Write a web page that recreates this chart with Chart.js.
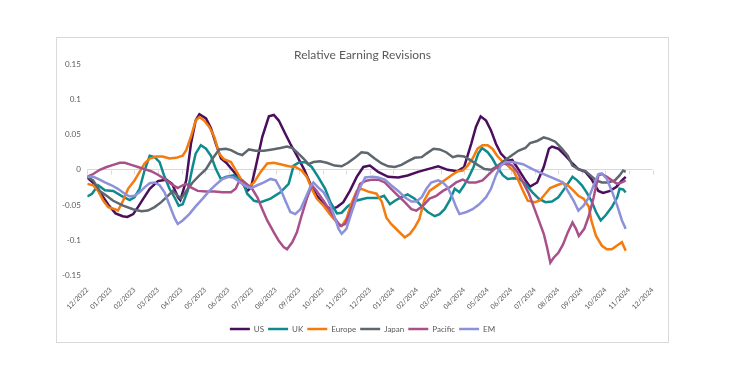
<!DOCTYPE html>
<html><head><meta charset="utf-8">
<script src="https://cdn.jsdelivr.net/npm/chart.js@4.4.1/dist/chart.umd.min.js"></script>
<style>html,body{margin:0;padding:0;background:#fff;width:739px;height:380px;overflow:hidden;} #c{position:absolute;left:56px;top:0;display:block;}</style>
</head><body>
<canvas id="c" width="613" height="380"></canvas>
<script>
// x values are months since 12/2022
const tickLabels = ['12/2022','01/2023','02/2023','03/2023','04/2023','05/2023','06/2023','07/2023','08/2023','09/2023','10/2023','11/2023','12/2023','01/2024','02/2024','03/2024','04/2024','05/2024','06/2024','07/2024','08/2024','09/2024','10/2024','11/2024','12/2024'];
const seriesNames = ['US','UK','Europe','Japan','Pacific','EM'];
const seriesColors = ['#4B0E5D','#0F8B8D','#F47B0E','#5D6770','#A9508A','#8D91DA'];

const us = [[0,-0.011],[0.3,-0.02],[0.6,-0.035],[0.9,-0.05],[1.2,-0.062],[1.5,-0.066],[1.7,-0.067],[1.95,-0.063],[2.15,-0.053],[2.4,-0.04],[2.65,-0.027],[3.0,-0.016],[3.35,-0.014],[3.6,-0.02],[3.85,-0.039],[3.95,-0.043],[4.2,-0.015],[4.4,0.037],[4.6,0.07],[4.76,0.079],[5.04,0.073],[5.25,0.059],[5.46,0.037],[5.68,0.016],[5.9,0.01],[6.23,-0.003],[6.5,-0.015],[6.8,-0.03],[6.95,-0.025],[7.15,0.004],[7.43,0.047],[7.71,0.076],[7.92,0.078],[8.13,0.07],[8.41,0.051],[8.62,0.037],[8.9,0.02],[9.2,0.001],[9.47,-0.02],[9.75,-0.037],[10.04,-0.049],[10.32,-0.056],[10.6,-0.053],[10.87,-0.046],[11.15,-0.03],[11.44,-0.01],[11.72,0.004],[12.0,0.006],[12.35,-0.003],[12.77,-0.01],[13.2,-0.011],[13.6,-0.008],[14.04,-0.003],[14.46,0.001],[14.9,0.005],[15.3,0],[15.7,-0.002],[16.0,0.004],[16.3,0.037],[16.5,0.061],[16.7,0.076],[16.93,0.07],[17.14,0.056],[17.35,0.037],[17.56,0.023],[17.85,0.013],[18.04,0.014],[18.3,0.001],[18.6,-0.015],[18.8,-0.024],[19.1,-0.018],[19.38,0.004],[19.6,0.03],[19.73,0.033],[20.0,0.03],[20.3,0.02],[20.6,0.009],[20.85,0.001],[21.15,-0.003],[21.4,-0.013],[21.7,-0.03],[21.9,-0.033],[22.2,-0.03],[22.47,-0.024],[22.7,-0.015],[22.86,-0.01]];
const uk = [[0,-0.038],[0.2,-0.034],[0.46,-0.022],[0.75,-0.029],[1.1,-0.03],[1.45,-0.037],[1.8,-0.043],[2.0,-0.039],[2.22,-0.027],[2.43,-0.001],[2.65,0.02],[2.86,0.018],[3.07,0.011],[3.28,-0.01],[3.49,-0.027],[3.7,-0.039],[3.88,-0.051],[4.05,-0.049],[4.26,-0.03],[4.47,0.004],[4.6,0.023],[4.82,0.035],[5.04,0.03],[5.25,0.02],[5.46,0.001],[5.67,-0.013],[5.88,-0.01],[6.2,-0.008],[6.58,-0.015],[6.79,-0.034],[7.08,-0.044],[7.36,-0.046],[7.78,-0.041],[8.2,-0.032],[8.55,-0.02],[8.76,0.006],[8.97,0.01],[9.25,0.011],[9.53,0.004],[9.8,-0.01],[10.1,-0.027],[10.32,-0.046],[10.6,-0.062],[10.8,-0.061],[11.05,-0.052],[11.4,-0.044],[11.87,-0.04],[12.35,-0.04],[12.6,-0.037],[12.85,-0.049],[13.06,-0.044],[13.34,-0.039],[13.6,-0.035],[13.9,-0.041],[14.2,-0.052],[14.46,-0.06],[14.75,-0.066],[14.96,-0.063],[15.17,-0.056],[15.38,-0.044],[15.6,-0.027],[15.8,-0.032],[16.0,-0.022],[16.2,-0.01],[16.4,0.004],[16.6,0.023],[16.76,0.031],[17.0,0.025],[17.2,0.016],[17.4,0.004],[17.65,-0.008],[17.85,-0.013],[18.1,-0.012],[18.35,-0.013],[18.6,-0.02],[18.9,-0.032],[19.17,-0.041],[19.45,-0.046],[19.73,-0.045],[20.0,-0.039],[20.3,-0.025],[20.6,-0.01],[20.8,-0.015],[21.0,-0.022],[21.2,-0.032],[21.4,-0.044],[21.6,-0.06],[21.8,-0.072],[22.0,-0.065],[22.27,-0.053],[22.5,-0.039],[22.6,-0.027],[22.75,-0.028],[22.86,-0.032]];
const europe = [[0,-0.02],[0.25,-0.022],[0.46,-0.03],[0.68,-0.044],[0.89,-0.053],[1.17,-0.056],[1.3,-0.058],[1.52,-0.044],[1.73,-0.027],[2.01,-0.015],[2.22,-0.003],[2.43,0.009],[2.65,0.016],[2.93,0.019],[3.2,0.019],[3.49,0.016],[3.77,0.017],[4.05,0.02],[4.2,0.028],[4.4,0.047],[4.6,0.07],[4.76,0.075],[4.96,0.07],[5.18,0.061],[5.39,0.047],[5.6,0.023],[5.8,0.015],[6.1,0.011],[6.4,-0.006],[6.65,-0.02],[6.87,-0.024],[7.08,-0.018],[7.36,-0.003],[7.64,0.009],[7.92,0.01],[8.2,0.008],[8.55,0.005],[8.83,0.004],[9.1,-0.001],[9.32,-0.01],[9.53,-0.027],[9.74,-0.041],[10.03,-0.051],[10.3,-0.063],[10.6,-0.075],[10.8,-0.08],[11.0,-0.07],[11.2,-0.049],[11.44,-0.03],[11.64,-0.027],[11.93,-0.031],[12.28,-0.034],[12.5,-0.045],[12.7,-0.068],[12.9,-0.077],[13.2,-0.087],[13.48,-0.096],[13.7,-0.091],[13.9,-0.082],[14.1,-0.07],[14.3,-0.044],[14.53,-0.03],[14.75,-0.025],[14.96,-0.02],[15.17,-0.015],[15.45,-0.008],[15.73,-0.002],[15.94,-0.001],[16.15,0.006],[16.36,0.016],[16.57,0.03],[16.78,0.035],[17.0,0.035],[17.2,0.03],[17.4,0.02],[17.65,0.011],[17.85,0.006],[18.1,-0.002],[18.3,-0.015],[18.5,-0.03],[18.7,-0.044],[19.0,-0.046],[19.2,-0.044],[19.45,-0.034],[19.65,-0.026],[19.94,-0.022],[20.2,-0.019],[20.4,-0.022],[20.65,-0.03],[20.85,-0.037],[21.07,-0.041],[21.3,-0.053],[21.4,-0.072],[21.6,-0.094],[21.85,-0.108],[22.06,-0.113],[22.27,-0.113],[22.48,-0.108],[22.7,-0.103],[22.86,-0.115]];
const japan = [[0,-0.01],[0.25,-0.015],[0.53,-0.03],[0.82,-0.037],[1.1,-0.044],[1.52,-0.051],[1.94,-0.056],[2.3,-0.059],[2.57,-0.058],[2.86,-0.053],[3.14,-0.046],[3.42,-0.037],[3.63,-0.03],[3.84,-0.037],[3.98,-0.041],[4.2,-0.03],[4.47,-0.018],[4.76,-0.008],[5.04,0.001],[5.32,0.016],[5.6,0.029],[5.88,0.03],[6.1,0.028],[6.38,0.023],[6.58,0.021],[6.86,0.029],[7.15,0.027],[7.5,0.027],[7.85,0.029],[8.2,0.031],[8.48,0.033],[8.7,0.031],[8.9,0.025],[9.18,0.016],[9.39,0.008],[9.6,0.011],[9.88,0.012],[10.17,0.01],[10.5,0.006],[10.8,0.005],[11.07,0.01],[11.36,0.017],[11.64,0.025],[11.9,0.024],[12.2,0.016],[12.5,0.009],[12.78,0.005],[13.06,0.004],[13.34,0.007],[13.6,0.012],[13.9,0.017],[14.2,0.018],[14.4,0.023],[14.7,0.03],[14.96,0.029],[15.24,0.025],[15.52,0.018],[15.73,0.02],[16.0,0.019],[16.3,0.013],[16.57,0.007],[16.86,0.001],[17.14,0],[17.4,0.005],[17.7,0.013],[18.0,0.02],[18.3,0.027],[18.6,0.031],[18.8,0.038],[19.1,0.041],[19.38,0.046],[19.6,0.044],[19.87,0.04],[20.15,0.03],[20.4,0.02],[20.6,0.006],[20.85,0.001],[21.15,-0.002],[21.4,-0.009],[21.6,-0.015],[21.85,-0.018],[22.1,-0.018],[22.4,-0.015],[22.6,-0.008],[22.75,-0.001],[22.86,-0.003]];
const pacific = [[0,-0.01],[0.25,-0.006],[0.53,0],[0.82,0.004],[1.1,0.007],[1.38,0.01],[1.59,0.01],[1.87,0.007],[2.15,0.004],[2.43,0.001],[2.71,-0.002],[3.0,-0.007],[3.28,-0.013],[3.56,-0.02],[3.84,-0.026],[4.05,-0.022],[4.2,-0.02],[4.4,-0.025],[4.69,-0.03],[5.04,-0.031],[5.39,-0.031],[5.74,-0.032],[6.1,-0.032],[6.3,-0.027],[6.45,-0.016],[6.58,-0.015],[6.79,-0.021],[7.0,-0.027],[7.22,-0.039],[7.43,-0.056],[7.64,-0.072],[7.92,-0.089],[8.13,-0.101],[8.34,-0.11],[8.48,-0.113],[8.7,-0.103],[8.9,-0.089],[9.1,-0.065],[9.32,-0.041],[9.53,-0.022],[9.74,-0.03],[10.03,-0.044],[10.3,-0.058],[10.53,-0.07],[10.74,-0.08],[10.95,-0.077],[11.16,-0.06],[11.37,-0.039],[11.58,-0.02],[11.8,-0.016],[12.1,-0.014],[12.35,-0.014],[12.63,-0.018],[12.9,-0.027],[13.2,-0.037],[13.48,-0.046],[13.76,-0.056],[13.97,-0.058],[14.26,-0.051],[14.53,-0.041],[14.82,-0.037],[15.1,-0.03],[15.38,-0.025],[15.66,-0.018],[15.94,-0.014],[16.2,-0.018],[16.5,-0.018],[16.78,-0.015],[17.0,-0.008],[17.28,0.001],[17.56,0.008],[17.85,0.009],[18.04,0.006],[18.25,-0.003],[18.5,-0.018],[18.75,-0.034],[18.96,-0.053],[19.17,-0.072],[19.38,-0.091],[19.52,-0.11],[19.66,-0.132],[19.8,-0.125],[20.0,-0.118],[20.2,-0.106],[20.4,-0.089],[20.6,-0.075],[20.75,-0.084],[20.87,-0.094],[21.1,-0.084],[21.3,-0.065],[21.5,-0.039],[21.7,-0.008],[21.85,-0.006],[22.06,-0.01],[22.27,-0.015],[22.5,-0.02],[22.7,-0.018],[22.86,-0.015]];
const em = [[0,-0.01],[0.25,-0.01],[0.46,-0.013],[0.75,-0.018],[1.03,-0.022],[1.3,-0.027],[1.59,-0.034],[1.8,-0.038],[2.0,-0.037],[2.22,-0.032],[2.43,-0.025],[2.65,-0.019],[2.86,-0.018],[3.07,-0.022],[3.28,-0.032],[3.42,-0.044],[3.56,-0.056],[3.7,-0.068],[3.84,-0.077],[4.05,-0.072],[4.33,-0.063],[4.6,-0.052],[4.9,-0.041],[5.18,-0.03],[5.46,-0.021],[5.74,-0.013],[6.0,-0.01],[6.2,-0.011],[6.38,-0.015],[6.65,-0.022],[6.94,-0.026],[7.22,-0.022],[7.5,-0.018],[7.78,-0.013],[8.0,-0.015],[8.2,-0.027],[8.41,-0.044],[8.62,-0.06],[8.83,-0.063],[9.05,-0.056],[9.25,-0.041],[9.46,-0.025],[9.6,-0.018],[9.8,-0.025],[10.03,-0.032],[10.24,-0.044],[10.46,-0.063],[10.67,-0.084],[10.8,-0.091],[11.0,-0.084],[11.2,-0.063],[11.44,-0.039],[11.58,-0.025],[11.8,-0.011],[12.1,-0.01],[12.35,-0.011],[12.63,-0.014],[12.9,-0.022],[13.2,-0.03],[13.48,-0.039],[13.76,-0.045],[13.97,-0.045],[14.2,-0.039],[14.4,-0.027],[14.6,-0.018],[14.9,-0.015],[15.1,-0.018],[15.3,-0.025],[15.5,-0.039],[15.66,-0.053],[15.8,-0.063],[16.1,-0.06],[16.36,-0.056],[16.64,-0.049],[16.93,-0.039],[17.14,-0.027],[17.35,-0.008],[17.56,0.006],[17.77,0.011],[18.06,0.011],[18.5,0.008],[18.9,0.001],[19.3,-0.005],[19.73,-0.011],[20.0,-0.015],[20.2,-0.018],[20.4,-0.03],[20.65,-0.044],[20.85,-0.058],[21.07,-0.051],[21.3,-0.039],[21.5,-0.022],[21.7,-0.006],[21.85,-0.005],[22.06,-0.013],[22.27,-0.03],[22.5,-0.051],[22.7,-0.072],[22.86,-0.084]];

const seriesValues = [us, uk, europe, japan, pacific, em];
const TEXT = '#595959';
const GRID = '#D9D9D9';

const datasets = seriesNames.map((name, i) => ({
  label: name,
  data: seriesValues[i].map(([x, y]) => ({x, y})),
  borderColor: seriesColors[i],
  backgroundColor: seriesColors[i],
  borderWidth: 2.5,
  pointRadius: 0,
  tension: 0,
  fill: false,
  order: seriesNames.length - i
}));

const frame = {
  id: 'frame',
  beforeDraw(chart) {
    const ctx = chart.ctx;
    ctx.save();
    ctx.fillStyle = '#fff';
    ctx.fillRect(0, 0, chart.width, chart.height);
    ctx.strokeStyle = GRID;
    ctx.lineWidth = 1;
    ctx.strokeRect(0.5, 37.5, chart.width - 1, 305);
    ctx.restore();
  },
  beforeDatasetsDraw(chart) {
    const ctx = chart.ctx, xs = chart.scales.x, ys = chart.scales.y;
    const y0 = Math.round(ys.getPixelForValue(0)) + 0.5;
    ctx.save();
    ctx.strokeStyle = GRID;
    ctx.lineWidth = 1;
    ctx.beginPath();
    xs.ticks.forEach(t => {
      const px = Math.round(xs.getPixelForValue(t.value)) + 0.5;
      ctx.moveTo(px, y0);
      ctx.lineTo(px, y0 + 4);
    });
    ctx.stroke();
    ctx.restore();
  }
};

Chart.defaults.font.family = 'Lato';
Chart.defaults.color = TEXT;

new Chart(document.getElementById('c'), {
  type: 'line',
  data: { datasets },
  plugins: [frame],
  options: {
    responsive: false,
    animation: false,
    devicePixelRatio: 1,
    layout: { padding: { left: 0, right: 0, top: 40, bottom: 37 } },
    scales: {
      x: {
        type: 'linear',
        min: 0, max: 24,
        grid: { display: false, drawTicks: false },
        border: { display: false },
        afterFit(scale) { scale.height = 45.7; },
        ticks: {
          stepSize: 1,
          autoSkip: false,
          minRotation: 45, maxRotation: 45,
          padding: 10.5,
          color: TEXT,
          font: { size: 7 },
          callback: (v) => tickLabels[Math.round(v)]
        }
      },
      y: {
        min: -0.15, max: 0.15,
        afterFit(scale) { scale.width = 31.3; },
        grid: {
          drawTicks: false,
          color: (c) => (c.tick && Math.abs(c.tick.value) < 1e-9) ? GRID : 'rgba(0,0,0,0)',
          lineWidth: 1
        },
        border: { display: false },
        ticks: {
          stepSize: 0.05,
          padding: 6.5,
          color: TEXT,
          font: { size: 8 },
          callback: (v) => String(Number(v.toFixed(2)))
        }
      },
      yRight: {
        position: 'right',
        grid: { display: false },
        border: { display: false },
        ticks: { display: false },
        afterFit(scale) { scale.width = 13; }
      }
    },
    plugins: {
      title: {
        display: true,
        text: 'Relative Earning Revisions',
        color: TEXT,
        font: { size: 12, weight: 'normal' },
        padding: { top: 8, bottom: 1.9 }
      },
      legend: {
        position: 'bottom',
        labels: {
          usePointStyle: true,
          pointStyle: 'line',
          pointStyleWidth: 20,
          padding: 4,
          color: TEXT,
          font: { size: 8 },
          sort: (a, b) => a.datasetIndex - b.datasetIndex
        }
      },
      tooltip: { enabled: false }
    }
  }
});
</script>
</body></html>
